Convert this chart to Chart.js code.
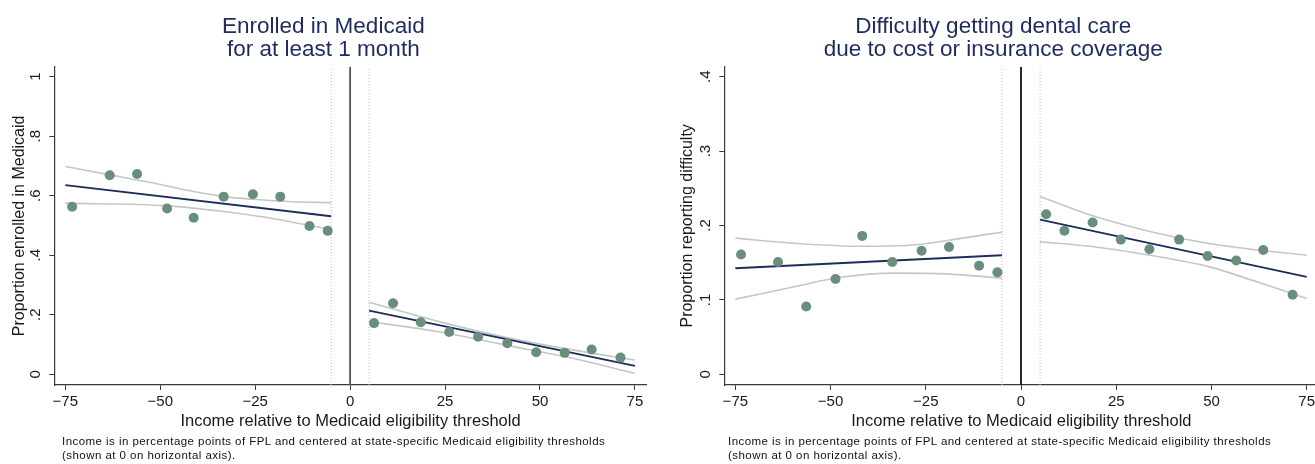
<!DOCTYPE html>
<html>
<head>
<meta charset="utf-8">
<script src="https://cdn.jsdelivr.net/npm/chart.js@4.4.1/dist/chart.umd.min.js"></script>
<style>
  html, body { margin: 0; padding: 0; background: #fff; overflow: hidden; width: 1315px; height: 464px; }
  canvas { position: absolute; top: 0; }
  #chartMedicaid { left: 0; }
  #chartDental { left: 668px; }
  .note { position: absolute; top: 434px; font: 11.5px "Liberation Sans", Arial, sans-serif; letter-spacing: 0.45px; line-height: 14px; color: #111; white-space: nowrap; }
</style>
</head>
<body>
<canvas id="chartMedicaid" width="668" height="464"></canvas>
<canvas id="chartDental" width="708" height="464"></canvas>
<div class="note" id="note1"></div>
<div class="note" id="note2"></div>
<script>
// shared axis ticks
const xTicks = [-75, -50, -25, 0, 25, 50, 75];
const xTickLabels = ['\u221275', '\u221250', '\u221225', '0', '25', '50', '75'];
const cutoff = 0;
const bandEdges = [-5, 5];

// left panel: enrolled in Medicaid
const medTicks = [0, 0.2, 0.4, 0.6, 0.8, 1];
const medTickLabels = ['0', '.2', '.4', '.6', '.8', '1'];
const medBelowX = [-73.2, -63.3, -56.1, -48.2, -41.2, -33.3, -25.6, -18.4, -10.7, -5.9];
const medBelowY = [0.563, 0.669, 0.673, 0.557, 0.526, 0.597, 0.605, 0.597, 0.498, 0.482];
const medAboveX = [6.3, 11.3, 18.6, 26.1, 33.7, 41.4, 49.0, 56.5, 63.6, 71.2];
const medAboveY = [0.172, 0.239, 0.175, 0.142, 0.126, 0.104, 0.074, 0.072, 0.083, 0.056];
const medFitBelowX = [-75, -5];
const medFitBelowY = [0.636, 0.531];
const medFitAboveX = [5, 75];
const medFitAboveY = [0.214, 0.028];
const medHiBelowX = [-75, -63.2, -53.5, -41.2, -33.3, -25.6, -14.9, -5];
const medHiBelowY = [0.698, 0.670, 0.647, 0.614, 0.597, 0.588, 0.580, 0.577];
const medLoBelowX = [-75, -48.2, -33.3, -23.7, -11.4, -5];
const medLoBelowY = [0.575, 0.566, 0.547, 0.530, 0.502, 0.486];
const medHiAboveX = [5, 23.4, 41, 58.5, 75];
const medHiAboveY = [0.242, 0.177, 0.124, 0.082, 0.048];
const medLoAboveX = [5, 23.4, 41, 58.5, 75];
const medLoAboveY = [0.177, 0.143, 0.098, 0.054, 0.003];

// right panel: difficulty getting dental care
const denTicks = [0, 0.1, 0.2, 0.3, 0.4];
const denTickLabels = ['0', '.1', '.2', '.3', '.4'];
const denBelowX = [-73.5, -63.8, -56.4, -48.7, -41.7, -33.8, -26.1, -18.9, -11.0, -6.2];
const denBelowY = [0.161, 0.151, 0.091, 0.128, 0.186, 0.151, 0.166, 0.171, 0.146, 0.137];
const denAboveX = [6.6, 11.4, 18.8, 26.2, 33.7, 41.5, 49.0, 56.5, 63.6, 71.3];
const denAboveY = [0.215, 0.193, 0.204, 0.181, 0.168, 0.181, 0.159, 0.153, 0.167, 0.107];
const denFitBelowX = [-75, -5];
const denFitBelowY = [0.1425, 0.160];
const denFitAboveX = [5, 75];
const denFitAboveY = [0.208, 0.131];
const denHiBelowX = [-75, -59.2, -41.7, -27.6, -15.4, -5];
const denHiBelowY = [0.183, 0.176, 0.172, 0.174, 0.183, 0.191];
const denLoBelowX = [-75, -59.2, -47.8, -32.9, -19.7, -5];
const denLoBelowY = [0.101, 0.118, 0.130, 0.136, 0.135, 0.129];
const denHiAboveX = [5, 18.2, 33.8, 49, 62.1, 75];
const denHiAboveY = [0.239, 0.214, 0.192, 0.176, 0.167, 0.160];
const denLoAboveX = [5, 18.2, 33.8, 49, 62.1, 75];
const denLoAboveY = [0.178, 0.172, 0.160, 0.145, 0.124, 0.102];

const footnote = ['Income is in percentage points of FPL and centered at state-specific Medicaid eligibility thresholds',
                  '(shown at 0 on horizontal axis).'];

const FONT = '"Liberation Sans", Arial, Helvetica, sans-serif';
const NAVY = '#1d2b5e';
const DOT = '#6a8e7e';
const CI = '#c6c6c6';
const AXIS = '#3a3a3a';

Chart.defaults.font.family = FONT;

function zip(xs, ys) {
    return xs.map((x, i) => ({x: x, y: ys[i]}));
}

// rotated y tick labels, stata style
const yLabelsPlugin = {
    id: 'yLabels',
    afterDraw(chart, args, opts) {
        const sc = chart.scales.y;
        const ctx = chart.ctx;
        ctx.save();
        ctx.fillStyle = '#1a1a1a';
        ctx.font = '15px ' + FONT;
        ctx.textAlign = 'center';
        ctx.textBaseline = 'middle';
        opts.ticks.forEach((v, i) => {
            ctx.save();
            ctx.translate(sc.right - 18, sc.getPixelForValue(v));
            ctx.rotate(-Math.PI / 2);
            ctx.fillText(opts.labels[i], 0, 0);
            ctx.restore();
        });
        ctx.restore();
    }
};

function lineSet(data, color, width, order, extra) {
    return Object.assign({
        type: 'scatter',
        data: data,
        showLine: true,
        borderColor: color,
        borderWidth: width,
        pointRadius: 0,
        fill: false,
        order: order
    }, extra || {});
}

function makePanel(id, p) {
    const curve = {cubicInterpolationMode: 'monotone'};
    const datasets = [
        {type: 'scatter', data: zip(p.belowX, p.belowY), pointRadius: 5, pointBackgroundColor: DOT, pointBorderWidth: 0, order: 0},
        {type: 'scatter', data: zip(p.aboveX, p.aboveY), pointRadius: 5, pointBackgroundColor: DOT, pointBorderWidth: 0, order: 0},
        lineSet(zip(p.fitBelowX, p.fitBelowY), NAVY, 1.8, 1),
        lineSet(zip(p.fitAboveX, p.fitAboveY), NAVY, 1.8, 1),
        lineSet(zip(p.hiBelowX, p.hiBelowY), CI, 1.6, 2, curve),
        lineSet(zip(p.loBelowX, p.loBelowY), CI, 1.6, 2, curve),
        lineSet(zip(p.hiAboveX, p.hiAboveY), CI, 1.6, 2, curve),
        lineSet(zip(p.loAboveX, p.loAboveY), CI, 1.6, 2, curve),
        lineSet([{x: cutoff, y: p.yMin}, {x: cutoff, y: p.yMax}], p.zeroColor, 1.8, 3),
        lineSet([{x: bandEdges[0], y: p.yMin}, {x: bandEdges[0], y: p.yMax}], '#b8b8b8', 1, 3, {borderDash: [1, 2]}),
        lineSet([{x: bandEdges[1], y: p.yMin}, {x: bandEdges[1], y: p.yMax}], '#b8b8b8', 1, 3, {borderDash: [1, 2]})
    ];

    const config = {
        type: 'scatter',
        data: {datasets: datasets},
        options: {
            responsive: false,
            animation: false,
            layout: {padding: {left: 0, right: p.padRight, top: 0, bottom: 0}},
            plugins: {
                legend: {display: false},
                tooltip: {enabled: false},
                title: {
                    display: true,
                    text: p.title,
                    color: NAVY,
                    font: {size: 22.5, weight: 'normal', lineHeight: 1.04},
                    padding: {top: 14.8, bottom: 5.1}
                },
                yLabels: {ticks: p.yTicks, labels: p.yTickLabels}
            },
            scales: {
                x: {
                    type: 'linear',
                    min: -77.9,
                    max: 78.1,
                    afterBuildTicks: s => { s.ticks = xTicks.map(v => ({value: v})); },
                    afterFit: s => { s.height = 79; },
                    ticks: {
                        autoSkip: false, maxRotation: 0, padding: 3, color: '#1a1a1a',
                        font: {size: 15},
                        callback: v => xTickLabels[xTicks.indexOf(v)]
                    },
                    grid: {display: true, drawOnChartArea: false, drawTicks: true, tickLength: 5, color: AXIS},
                    border: {display: true, color: AXIS, width: 1.2},
                    title: {
                        display: true,
                        text: 'Income relative to Medicaid eligibility threshold',
                        color: '#1a1a1a',
                        font: {size: 16.5},
                        padding: {top: 0, bottom: 32.3}
                    }
                },
                y: {
                    type: 'linear',
                    min: p.yMin,
                    max: p.yMax,
                    afterBuildTicks: s => { s.ticks = p.yTicks.map(v => ({value: v})); },
                    afterFit: s => { s.width = p.yWidth; },
                    ticks: {display: false},
                    grid: {display: true, drawOnChartArea: false, drawTicks: true, tickLength: 5, color: AXIS},
                    border: {display: true, color: AXIS, width: 1.2},
                    title: {
                        display: true,
                        text: p.yTitle,
                        color: '#1a1a1a',
                        font: {size: 16},
                        padding: {top: 9.8, bottom: 0}
                    }
                }
            }
        },
        plugins: [yLabelsPlugin]
    };

    return new Chart(document.getElementById(id), config);
}

makePanel('chartMedicaid', {
    title: ['Enrolled in Medicaid', 'for at least 1 month'],
    yTitle: 'Proportion enrolled in Medicaid',
    yTicks: medTicks, yTickLabels: medTickLabels,
    yMin: -0.036, yMax: 1.0336,
    yWidth: 54.3, padRight: 21.3,
    zeroColor: '#555555',
    belowX: medBelowX, belowY: medBelowY, aboveX: medAboveX, aboveY: medAboveY,
    fitBelowX: medFitBelowX, fitBelowY: medFitBelowY, fitAboveX: medFitAboveX, fitAboveY: medFitAboveY,
    hiBelowX: medHiBelowX, hiBelowY: medHiBelowY, loBelowX: medLoBelowX, loBelowY: medLoBelowY,
    hiAboveX: medHiAboveX, hiAboveY: medHiAboveY, loAboveX: medLoAboveX, loAboveY: medLoAboveY
});

makePanel('chartDental', {
    title: ['Difficulty getting dental care', 'due to cost or insurance coverage'],
    yTitle: 'Proportion reporting difficulty',
    yTicks: denTicks, yTickLabels: denTickLabels,
    yMin: -0.0144, yMax: 0.4134,
    yWidth: 56.3, padRight: 57.5,
    zeroColor: '#111111',
    belowX: denBelowX, belowY: denBelowY, aboveX: denAboveX, aboveY: denAboveY,
    fitBelowX: denFitBelowX, fitBelowY: denFitBelowY, fitAboveX: denFitAboveX, fitAboveY: denFitAboveY,
    hiBelowX: denHiBelowX, hiBelowY: denHiBelowY, loBelowX: denLoBelowX, loBelowY: denLoBelowY,
    hiAboveX: denHiAboveX, hiAboveY: denHiAboveY, loAboveX: denLoAboveX, loAboveY: denLoAboveY
});

// footnotes under each panel
const note1 = document.getElementById('note1');
const note2 = document.getElementById('note2');
note1.innerHTML = footnote.join('<br>');
note2.innerHTML = footnote.join('<br>');
note1.style.left = '62px';
note2.style.left = '728px';
</script>
</body>
</html>
